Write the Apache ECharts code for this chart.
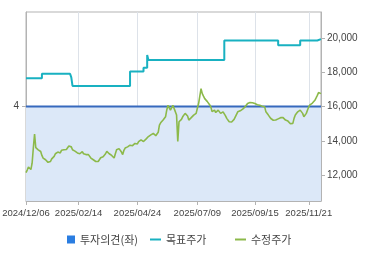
<!DOCTYPE html>
<html>
<head>
<meta charset="utf-8">
<script src="https://cdn.jsdelivr.net/npm/echarts@6/dist/echarts.min.js"></script>
<style>
html,body{margin:0;padding:0;background:#fff;}
#chart{width:370px;height:255px;}
</style>
</head>
<body>
<div id="chart"></div>
<script>
// ---- data ----
const startDate = '2024-12-06';
const endDate = '2025-12-05';
const holidays = ['2024-12-25','2024-12-31','2025-01-01','2025-01-27','2025-01-28','2025-01-29','2025-01-30',
  '2025-03-03','2025-05-01','2025-05-05','2025-05-06','2025-06-03','2025-06-06','2025-08-15',
  '2025-10-03','2025-10-06','2025-10-07','2025-10-08','2025-10-09'];
const tickDates = ['2024/12/06','2025/02/14','2025/04/24','2025/07/09','2025/09/15','2025/11/21'];

const priceValues = [
12150,12300,12480,12520,12330,12700,13600,14400,13600,13700,
13480,13550,13380,13150,13000,12950,12900,12820,12750,12700,
12800,12950,13000,13100,13250,13200,13350,13400,13300,13450,
13400,13480,13550,13500,13600,13700,13620,13650,13480,13550,
13400,13450,13300,13200,13250,13350,13370,13250,13300,13200,
13250,13200,13100,13000,12950,12900,12850,12800,12750,12800,
12900,13020,13000,13080,13100,13250,13390,13300,13250,13200,
13150,13050,13000,13250,13480,13400,13550,13580,13350,13200,
13450,13580,13550,13650,13700,13750,13770,13720,13800,13850,
13870,13820,13950,14000,14060,14000,13960,14050,14100,14160,
14250,14300,14350,14400,14440,14420,14300,14250,14500,14920,
15050,15150,15210,15300,15400,15800,16070,15960,15790,15900,
16070,15980,15700,15500,13960,15110,15110,15250,15400,15500,
15600,15690,15450,15210,15300,15350,15400,15500,15550,15600,
15900,16170,16600,17040,16750,16600,16460,16400,16300,16260,
16100,15980,15700,15600,15790,15650,15600,15790,15700,15600,
15650,15690,15600,15450,15310,15200,15110,15150,15100,15110,
15250,15400,15500,15690,15650,15750,15790,15850,15900,15980,
16050,16170,16200,16230,16260,16220,16200,16170,16150,16100,
16080,16070,16050,16020,16000,15980,15690,15600,15500,15400,
15300,15250,15200,15250,15210,15200,15280,15250,15350,15400,
15350,15250,15210,15100,15150,15060,15000,15050,15020,15310,
15500,15600,15690,15650,15790,15750,15600,15400,15500,15600,
15800,15980,16100,16170,16200,16300,16360,16500,16650,16810,
16800,16750];

// target price change points
const targetDates  = ['2024/12/06','2024/12/26','2025/02/05','2025/02/06','2025/02/07','2025/04/16','2025/05/02','2025/05/09','2025/05/12','2025/08/08','2025/10/17','2025/11/12','2025/12/02','2025/12/05'];
const targetValues = [17650,17900,18000,17700,17200,18030,18250,19000,18710,19840,19570,19840,19920,19920];

// investment opinion
const opinionDates  = ['2024/12/06','2025/12/05'];
const opinionValues = [4,4];

const rightTicks = [12000,14000,16000,18000,20000];
const leftTicks = [4];

// ---- build categories (trading days) ----
function buildDates(){
  const out = [];
  const hs = new Set(holidays);
  let d = new Date(startDate + 'T00:00:00Z');
  const e = new Date(endDate + 'T00:00:00Z');
  while (d <= e) {
    const wd = d.getUTCDay();
    const iso = d.toISOString().slice(0,10);
    if (wd !== 0 && wd !== 6 && !hs.has(iso)) out.push(iso.replace(/-/g,'/'));
    d = new Date(d.getTime() + 86400000);
  }
  return out;
}
const categories = buildDates();
const tickSet = new Set(tickDates);
const showAt = (i) => tickSet.has(categories[i]);

const numFont = '"Liberation Sans", Arial, sans-serif';
const krFont = '"Noto Sans CJK KR", "Noto Sans", sans-serif';

const chart = echarts.init(document.getElementById('chart'), null, {renderer:'canvas'});
chart.setOption({
  animation: false,
  backgroundColor: '#ffffff',
  grid: {left: 26, right: 49, top: 12, bottom: 54, show: true, borderColor: '#b3b3b3', borderWidth: 1,
         backgroundColor: 'transparent', containLabel: false, outerBoundsMode: 'none'},
  legend: [
    {left: 62, top: 229, itemWidth: 8, itemHeight: 8, textStyle: {fontFamily: krFont, fontSize: 11, color: '#444'},
     data: [{name: '투자의견(좌)', icon: 'rect', itemStyle: {color: '#2a7de1'}}]},
    {left: 145, top: 229, itemWidth: 11, itemHeight: 2, textStyle: {fontFamily: krFont, fontSize: 11, color: '#444'},
     data: [{name: '목표주가', icon: 'rect', itemStyle: {color: '#19b1c1'}}]},
    {left: 230, top: 229, itemWidth: 11, itemHeight: 2, textStyle: {fontFamily: krFont, fontSize: 11, color: '#444'},
     data: [{name: '수정주가', icon: 'rect', itemStyle: {color: '#8cb94a'}}]}
  ],
  xAxis: {
    type: 'category', data: categories, boundaryGap: false,
    axisLine: {lineStyle: {color: '#b3b3b3'}},
    axisTick: {show: true, interval: (i) => showAt(i), length: 4, lineStyle: {color: '#b3b3b3'}},
    splitLine: {show: true, interval: (i) => showAt(i), lineStyle: {color: '#dde2e9', width: 1}},
    axisLabel: {interval: (i) => showAt(i), margin: 7, fontSize: 9.5, color: '#444', fontFamily: numFont,
      hideOverlap: false, showMinLabel: true}
  },
  yAxis: [
    {type: 'value', position: 'left', min: 0, max: 8,
     axisLine: {show: true, lineStyle: {color: '#b3b3b3'}},
     axisTick: {show: true, length: 4, customValues: leftTicks, lineStyle: {color: '#b3b3b3'}},
     axisLabel: {customValues: leftTicks, margin: 7, fontSize: 10, color: '#444', fontFamily: numFont},
     splitLine: {show: false}},
    {type: 'value', position: 'right', min: 10500, max: 21500,
     axisLine: {show: true, lineStyle: {color: '#b3b3b3'}},
     axisTick: {show: true, length: 4, customValues: rightTicks, lineStyle: {color: '#b3b3b3'}},
     axisLabel: {customValues: rightTicks, margin: 6, fontSize: 10, color: '#444', fontFamily: numFont,
       formatter: (v) => v.toLocaleString('en-US')},
     splitLine: {show: false}}
  ],
  series: [
    {name: '투자의견(좌)', type: 'line', yAxisIndex: 0, showSymbol: false, symbol: 'none',
     data: opinionDates.map((d, k) => [categories.indexOf(d), opinionValues[k]]),
     lineStyle: {color: '#3669bd', width: 2}, itemStyle: {color: '#2a7de1'},
     areaStyle: {color: '#dce8f8', opacity: 1}, z: 1},
    {name: '목표주가', type: 'line', yAxisIndex: 1, step: 'end', showSymbol: false, symbol: 'none',
     data: targetDates.map((d, k) => [categories.indexOf(d), targetValues[k]]),
     lineStyle: {color: '#19b1c1', width: 2}, itemStyle: {color: '#19b1c1'}, z: 2},
    {name: '수정주가', type: 'line', yAxisIndex: 1, showSymbol: false, symbol: 'none',
     data: priceValues,
     lineStyle: {color: '#8cb94a', width: 1.6}, itemStyle: {color: '#8cb94a'}, z: 3}
  ]
});
</script>
</body>
</html>
